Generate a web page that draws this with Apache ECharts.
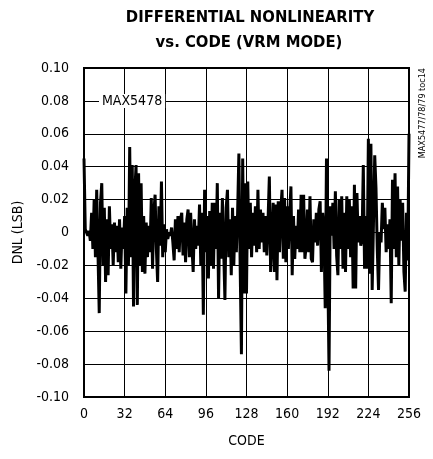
<!DOCTYPE html>
<html><head><meta charset="utf-8">
<script src="https://cdn.jsdelivr.net/npm/echarts@6/dist/echarts.min.js"></script>
<style>html,body{margin:0;padding:0;background:#fff}#c{width:433px;height:459px}</style>
</head><body><div id="c"></div>
<script>
var titleLines = ["DIFFERENTIAL NONLINEARITY", "vs. CODE (VRM MODE)"];
var xTicks = [0, 32, 64, 96, 128, 160, 192, 224, 256];
var yTicks = [-0.10, -0.08, -0.06, -0.04, -0.02, 0, 0.02, 0.04, 0.06, 0.08, 0.10];
var seriesLabel = "MAX5478";
var tocLabel = "MAX5477/78/79 toc14";
var dnl0 = [0.045,0.002,0.000,-0.002,0.001,-0.005,0.012,-0.010,0.020,-0.015,0.026,-0.012,-0.049,0.018,0.030,-0.020,0.015,-0.030,0.008,-0.026,0.016,-0.010,0.005,-0.020,0.006,-0.012,0.004,-0.018,0.008,-0.022,0.003,-0.010];
var dnl1 = [0.010,-0.037,0.015,-0.020,0.052,-0.015,0.041,-0.045,0.024,0.041,-0.044,0.036,-0.020,0.030,-0.024,0.010,-0.025,0.006,-0.015,0.004,-0.012,0.021,-0.022,0.012,0.023,-0.010,-0.030,0.016,-0.008,0.031,-0.015,0.005];
var dnl2 = [-0.012,0.002,-0.004,0.000,-0.002,0.003,-0.006,-0.017,0.008,-0.010,0.010,-0.012,0.008,0.012,-0.014,0.006,-0.018,0.008,0.014,-0.015,0.012,-0.008,-0.024,0.008,-0.010,0.004,-0.008,0.017,-0.020,0.012,-0.050,0.026];
var dnl3 = [-0.012,0.010,-0.028,0.013,-0.020,0.018,-0.022,0.018,-0.010,0.030,-0.040,0.012,-0.016,0.021,-0.010,-0.041,0.015,0.026,-0.015,0.008,-0.026,0.015,-0.020,0.010,-0.012,0.012,0.048,-0.020,-0.074,0.045,-0.037,0.030];
var dnl4 = [-0.037,0.031,-0.010,0.018,-0.015,0.012,-0.008,0.016,-0.012,0.026,-0.010,0.014,-0.006,0.012,-0.012,0.010,-0.014,0.008,0.034,-0.024,-0.006,0.018,-0.024,0.017,-0.029,0.019,-0.012,0.014,0.026,-0.016,0.021,-0.018];
var dnl5 = [0.016,-0.010,0.012,0.028,-0.026,0.010,-0.016,0.004,-0.010,0.014,-0.012,0.023,-0.012,0.023,-0.016,-0.008,0.014,-0.012,0.022,-0.016,-0.018,0.008,-0.006,0.012,-0.008,0.014,0.019,-0.024,0.012,0.002,-0.046,0.045];
var dnl6 = [-0.020,-0.084,0.016,-0.002,0.018,-0.010,0.025,-0.014,-0.026,0.020,-0.010,0.022,-0.022,0.012,-0.024,0.022,-0.010,0.020,-0.015,0.016,-0.034,0.029,-0.034,0.024,-0.006,0.010,-0.008,-0.004,0.041,-0.022,0.010,-0.022];
var dnl7 = [0.057,-0.025,0.054,-0.035,0.005,0.047,0.027,-0.010,-0.035,0.000,-0.006,0.018,0.002,0.015,-0.012,0.005,-0.010,0.008,-0.043,0.032,-0.010,0.036,-0.015,0.028,-0.020,0.020,-0.005,0.018,-0.024,-0.036,0.012,-0.017,0.060];

var dnl = dnl0.concat(dnl1, dnl2, dnl3, dnl4, dnl5, dnl6, dnl7);
var pts = dnl.map(function (v, i) { return [i, v]; });

var FONT = '"DejaVu Sans Condensed","Liberation Sans Narrow","Liberation Sans",sans-serif';
var chart = echarts.init(document.getElementById('c'), null, {renderer: 'canvas'});
chart.setOption({
  animation: false,
  backgroundColor: '#fff',
  grid: {left: 84, right: 24, top: 68, bottom: 62, show: true, borderColor: '#000', borderWidth: 2, backgroundColor: 'transparent'},
  xAxis: {
    type: 'value', min: xTicks[0], max: xTicks[xTicks.length - 1], interval: 32,
    name: 'CODE', nameLocation: 'middle', nameGap: 37,
    nameTextStyle: {fontFamily: FONT, fontSize: 14, color: '#000'},
    axisLine: {show: false}, axisTick: {show: false},
    axisLabel: {fontFamily: FONT, fontSize: 14, color: '#000', margin: 10},
    splitLine: {show: true, lineStyle: {color: '#000', width: 1}}
  },
  yAxis: {
    type: 'value', min: yTicks[0], max: yTicks[yTicks.length - 1], interval: 0.02,
    name: 'DNL (LSB)', nameLocation: 'middle', nameGap: 51, nameRotate: 90,
    nameTextStyle: {fontFamily: FONT, fontSize: 14, color: '#000'},
    axisLine: {show: false}, axisTick: {show: false},
    axisLabel: {fontFamily: FONT, fontSize: 14, color: '#000', margin: 15,
      formatter: function (v) { var r = Math.round(v * 100) / 100; return r === 0 ? '0' : r.toFixed(2); }},
    splitLine: {show: true, lineStyle: {color: '#000', width: 1}}
  },
  graphic: [
    {type: 'text', x: 250, y: 17.5, z: 10,
      style: {text: titleLines[0], font: 'bold 16.5px ' + FONT, fill: '#000', align: 'center', verticalAlign: 'middle'}},
    {type: 'text', x: 249, y: 43, z: 10,
      style: {text: titleLines[1], font: 'bold 16.5px ' + FONT, fill: '#000', align: 'center', verticalAlign: 'middle'}},
    {type: 'text', x: 99, y: 101, z: 10,
      style: {text: seriesLabel, font: '14px ' + FONT, fill: '#000', verticalAlign: 'middle', backgroundColor: '#fff', padding: [0, 3, 0, 3]}},
    {type: 'text', x: 427, y: 68, rotation: Math.PI / 2, z: 10,
      style: {text: tocLabel, font: '9px ' + FONT, fill: '#000', align: 'right', verticalAlign: 'bottom'}}
  ],
  series: [{
    type: 'line', data: pts, showSymbol: false, symbol: 'none',
    lineStyle: {color: '#000', width: 3}, z: 5
  }]
});
</script></body></html>
